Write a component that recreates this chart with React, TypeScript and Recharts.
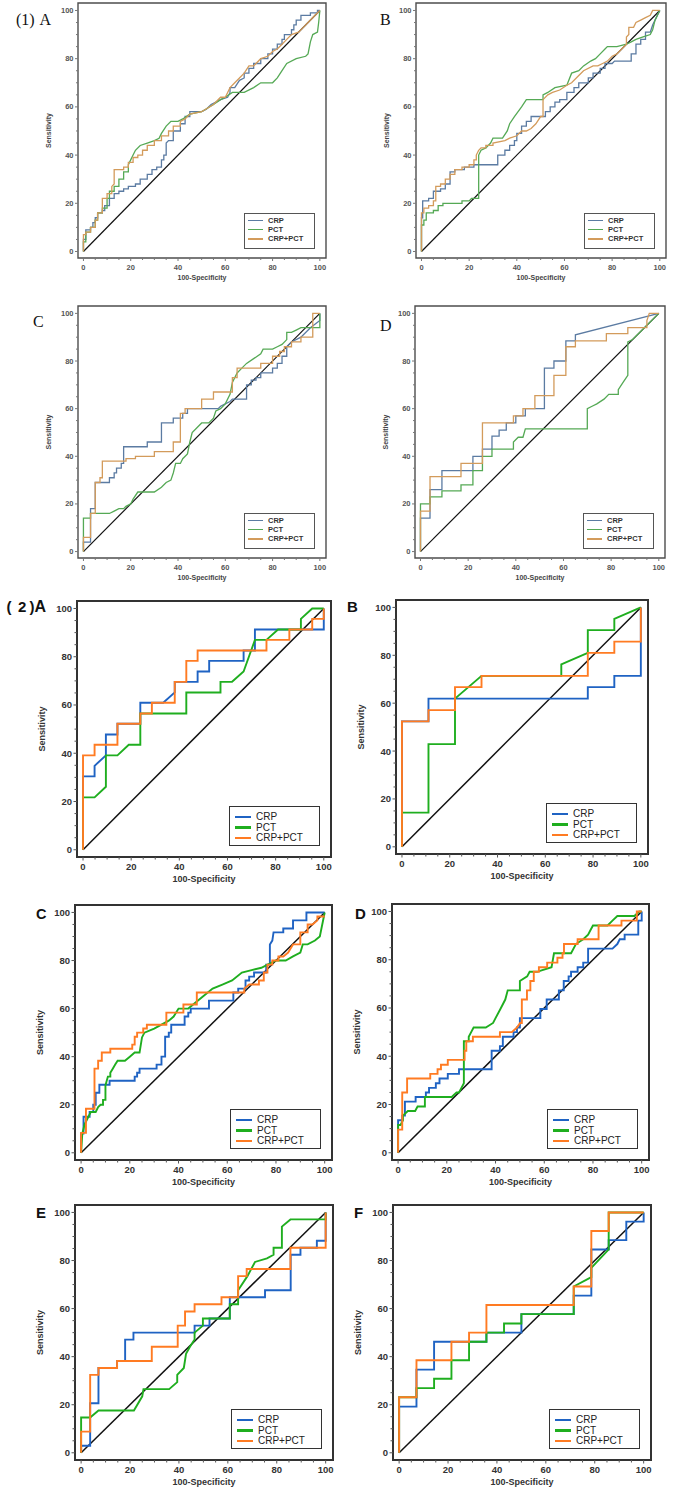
import React from 'react';
import { LineChart, Line, XAxis, YAxis, ReferenceLine, ReferenceArea, Legend } from 'recharts';

type Pt = [number, number];

// ROC points: [100-Specificity, Sensitivity]

// ---------- Figure (1) ----------
const f1aCrp: Pt[] = [[0,0],[0,5],[1,5],[1,9],[3,9],[3,10],[4,10],[4,12],[5,12],[5,14],[6,14],[6,16],[8,16],[8,17],[9,17],[9,19],[11,19],[11,22],[13,22],[13,24],[15,24],[15,25],[17,25],[17,26],[19,26],[19,27],[22,27],[22,28],[24,28],[24,30],[27,30],[27,32],[29,32],[29,34],[31,34],[31,35],[33,35],[33,38],[34,38],[34,40],[35,40],[35,45],[36,46],[38,46],[38,50],[41,50],[41,53],[43,53],[43,56],[45,56],[45,58],[50,58],[52,59],[54,61],[56,62],[58,63],[61,64],[62,66],[62,68],[64,68],[66,71],[68,72],[68,74],[70,74],[70,76],[72,76],[72,78],[75,78],[75,80],[78,80],[78,82],[80,82],[80,84],[82,84],[82,86],[84,86],[84,88],[85,88],[85,90],[88,90],[88,92],[89,92],[89,94],[90,94],[90,96],[92,96],[92,98],[96,98],[96,99],[99,99],[99,100],[100,100]];
const f1aPct: Pt[] = [[0,0],[0,4],[1,4],[1,8],[3,8],[3,10],[5,10],[5,13],[6,13],[6,16],[8,16],[8,18],[10,18],[10,22],[11,22],[11,25],[13,25],[13,27],[15,27],[15,30],[17,30],[17,33],[19,33],[19,36],[20,38],[21,40],[22,42],[24,44],[27,45],[30,46],[32,47],[33,49],[35,52],[37,54],[40,54],[42,55],[45,57],[50,58],[55,61],[58,63],[60,64],[63,66],[68,66],[72,68],[75,70],[80,70],[82,72],[84,75],[86,78],[90,80],[94,81],[95,82],[96,87],[97,90],[99,91],[99.5,95],[100,100]];
const f1aCombo: Pt[] = [[0,0],[0,7],[1,7],[1,8],[3,8],[3,10],[5,10],[5,13],[6,13],[6,16],[8,16],[8,22],[10,22],[10,24],[12,24],[12,27],[13,28],[13,34],[17,34],[17,35],[19,35],[19,37],[21,37],[21,39],[23,39],[23,40],[25,40],[25,42],[27,42],[27,44],[30,44],[30,46],[33,46],[33,48],[36,48],[36,50],[38,50],[38,52],[41,52],[41,54],[43,55],[45,57],[50,58],[55,61],[58,64],[60,64],[61,66],[62,68],[64,70],[66,72],[68,74],[70,77],[72,77],[73,78],[75,80],[78,81],[80,83],[82,84],[84,86],[86,88],[88,90],[91,91],[93,93],[95,95],[98,98],[100,100]];

const f1bCrp: Pt[] = [[0,0],[0,14],[0.5,14],[0.5,21],[3,21],[3,22],[5,22],[5,25],[8,25],[8,26],[10,26],[10,28],[12,28],[12,33],[14,33],[14,34],[18,34],[18,35],[22,35],[22,36],[32,36],[32,40],[35,40],[35,42],[37,42],[37,44],[39,44],[39,46],[40,46],[40,49],[42,49],[42,52],[44,52],[44,54],[46,54],[46,56],[52,56],[52,58],[54,58],[54,60],[56,60],[56,62],[58,62],[58,63],[61,63],[61,66],[64,66],[64,68],[66,68],[66,70],[70,70],[70,72],[72,72],[72,74],[75,74],[75,76],[77,76],[77,78],[80,78],[81,79],[88,79],[88,82],[90,82],[90,86],[92,86],[92,88],[94,88],[94,91],[96,91],[97,94],[98,96],[100,100]];
const f1bPct: Pt[] = [[0,0],[0,11],[1,11],[1,13],[2,13],[2,16],[5,16],[5,17],[7,17],[7,19],[9,19],[9,20],[17,20],[17,21],[20,21],[21,22],[24,22],[24,40],[25,42],[27,43],[29,45],[30,47],[34,47],[36,50],[37,53],[39,56],[42,60],[44,63],[51,63],[51,65],[53,66],[56,68],[61,69],[63,74],[66,75],[68,77],[71,79],[73,80],[75,82],[77,84],[78,85],[82,85],[86,86],[88,87],[90,88],[93,89],[96,90],[97,92],[98,96],[99,98],[100,100]];
const f1bCombo: Pt[] = [[0,0],[0,16],[1,16],[1,18],[3,18],[3,19],[5,19],[5,21],[6,21],[6,27],[8,27],[8,28],[10,28],[10,30],[12,30],[12,32],[14,32],[14,34],[17,34],[17,35],[20,35],[20,36],[22,36],[22,38],[23,38],[23,40],[24,42],[25,43],[27,43],[27,44],[30,44],[30,45],[35,46],[37,47],[40,48],[42,50],[44,50],[46,51],[48,53],[50,56],[51,56],[51,63],[53,65],[55,66],[58,67],[61,69],[63,70],[66,73],[68,75],[72,77],[74,77],[76,78],[78,79],[80,81],[82,82],[84,84],[86,86],[86,89],[87,90],[87,93],[89,93],[90,95],[92,96],[94,97],[96,98],[97,100],[100,100]];

const f1cCrp: Pt[] = [[0,0],[0,4],[3,4],[3,18],[5,18],[5,29],[11,29],[11,31],[13,31],[13,33],[14,33],[14,35],[16,35],[16,37],[17,37],[17,44],[27,44],[27,46],[33,46],[33,54],[38,54],[38,56],[42,56],[42,58],[44,58],[44,60],[57,60],[58,61],[60,62],[62,63],[63,64],[69,64],[69,70],[71,70],[71,72],[73,72],[73,73],[75,73],[75,75],[80,75],[80,77],[82,77],[82,79],[84,79],[84,82],[86,82],[86,86],[88,88],[92,90],[96,94],[100,97],[100,100]];
const f1cPct: Pt[] = [[0,0],[0,14],[3,14],[3,16],[6,16],[11,16],[13,17],[15,18],[17,18],[18,19],[20,20],[21,22],[23,25],[30,25],[33,27],[35,29],[37,30],[38,33],[39,37],[41,37],[42,39],[44,41],[45,46],[46,50],[48,52],[50,54],[53,54],[55,56],[56,59],[58,60],[60,62],[62,66],[63,71],[65,75],[67,77],[69,79],[72,81],[75,83],[76,85],[80,85],[82,86],[84,87],[86,89],[86,92],[88,92],[90,93],[92,94],[100,94],[100,100]];
const f1cCombo: Pt[] = [[0,0],[0,6],[3,6],[3,16],[5,16],[5,29],[7,29],[7,31],[8,31],[8,38],[18,38],[18,39],[22,39],[22,40],[30,40],[30,42],[38,42],[38,46],[41,46],[41,58],[43,58],[43,60],[50,60],[50,64],[55,64],[55,67],[63,67],[63,73],[65,73],[65,77],[75,77],[75,79],[80,79],[80,82],[83,82],[83,84],[85,84],[85,86],[88,86],[88,88],[92,88],[92,90],[97,90],[97,100],[100,100]];

const f1dCrp: Pt[] = [[0,0],[0,14],[4,14],[4,26],[9,26],[9,34],[22,34],[22,40],[26,40],[26,43],[30,43],[30,48.5],[33,48.5],[33,51],[36,51],[36,54],[40,54],[40,57],[44,57],[44,60],[52,60],[52,77],[56,77],[56,80],[61,80],[61,88.5],[65,88.5],[65,91],[100,100]];
const f1dPct: Pt[] = [[0,0],[0,20],[4,20],[4,23],[9,23],[9,25.5],[17,25.5],[17,28],[22,28],[22,34],[26,34],[26,40],[30,40],[30,43],[39,43],[39,46],[41,48],[43,48],[44,51.5],[70,51.5],[70,60],[72,61],[74,62],[77,64],[79,66],[83,66],[83,68],[85,71],[87,74],[87,88],[89,89],[91,91],[95,95],[100,100]];
const f1dCombo: Pt[] = [[0,0],[0,17],[4,17],[4,31.5],[17,31.5],[17,37],[26,37],[26,54],[39,54],[39,57],[43,57],[43,60],[48,60],[48,65.5],[56,65.5],[56,74],[61,74],[61,86],[65,86],[65,88.5],[78,88.5],[78,91.5],[87,91.5],[87,94],[95,94],[95,97],[96,100],[100,100]];

// ---------- Figure (2) ----------
const f2aCrp: Pt[] = [[0,0],[0,30.4],[4.8,30.4],[4.8,34.8],[9.5,39.1],[9.5,47.8],[14.3,47.8],[14.3,52.2],[23.8,52.2],[23.8,60.9],[33.3,60.9],[38.1,65.2],[38.1,69.6],[47.6,69.6],[47.6,73.9],[52.4,73.9],[52.4,78.3],[66.7,78.3],[66.7,82.6],[71.4,82.6],[71.4,91.3],[100,91.3],[100,100]];
const f2aPct: Pt[] = [[0,0],[0,21.7],[4.8,21.7],[9.5,26.1],[9.5,39.1],[14.3,39.1],[19,43.5],[23.8,43.5],[23.8,56.5],[42.9,56.5],[42.9,65.2],[57.1,65.2],[57.1,69.6],[61.9,69.6],[66.7,73.9],[71.4,87],[76.2,87],[81,91.3],[90.5,91.3],[90.5,95.7],[95.2,100],[100,100]];
const f2aCombo: Pt[] = [[0,0],[0,39.1],[4.8,39.1],[4.8,43.5],[14.3,43.5],[14.3,52.2],[23.8,52.2],[23.8,56.5],[28.6,56.5],[28.6,60.9],[38.1,60.9],[38.1,69.6],[42.9,69.6],[42.9,78.3],[47.6,78.3],[47.6,82.6],[76.2,82.6],[76.2,87],[85.7,87],[85.7,91.3],[95.2,91.3],[95.2,95.7],[100,95.7],[100,100]];

const f2bCrp: Pt[] = [[0,0],[0,52.4],[11.1,52.4],[11.1,61.9],[77.8,61.9],[77.8,66.7],[88.9,66.7],[88.9,71.4],[100,71.4],[100,85.7],[100,100]];
const f2bPct: Pt[] = [[0,0],[0,14.3],[11.1,14.3],[11.1,42.9],[22.2,42.9],[22.2,61.9],[33.3,71.4],[66.7,71.4],[66.7,76.2],[77.8,81],[77.8,90.5],[88.9,90.5],[88.9,95.2],[100,100]];
const f2bCombo: Pt[] = [[0,0],[0,52.4],[11.1,52.4],[11.1,57.1],[22.2,57.1],[22.2,66.7],[33.3,66.7],[33.3,71.4],[77.8,71.4],[77.8,81],[88.9,81],[88.9,85.7],[100,85.7],[100,100]];

const f2cCrp: Pt[] = [[0,0],[0,8],[1,8],[1,15],[3.5,15],[3.5,17],[5,17],[5,20],[6,20],[6,25],[7.5,25],[7.5,28.3],[11.7,28.3],[11.7,30],[22,30],[22,31.7],[23,31.7],[23,33.3],[24,33.3],[24,35],[31,35],[31,36.7],[33,36.7],[33,40],[34.5,40],[34.5,48.3],[36,48.3],[36,50],[37,50],[37,53.3],[42.5,53.3],[42.5,56.7],[44,56.7],[44,58.3],[45,58.3],[45,60],[52.5,60],[52.5,63.3],[62.5,63.3],[62.5,66.7],[64.5,66.7],[64.5,68.3],[67.5,68.3],[67.5,71.7],[69,71.7],[69,73.3],[71,73.3],[71,75],[76,75],[76,78.3],[77.5,78.3],[77.5,86.7],[78.5,88.3],[79,91.7],[83,91.7],[83,93.3],[87,93.3],[87,96.7],[92.5,96.7],[92.5,100],[100,100]];
const f2cPct: Pt[] = [[0,0],[0.5,8],[1.5,12],[3,15],[4,17],[6,17],[7,19],[8,20],[9,20],[9,22],[10,22],[10,28],[11,31.7],[12,31.7],[12,33.3],[13,35],[14,36.7],[15,38.3],[18,38.3],[20,40],[22,41.7],[24,41.7],[25,48],[26,50],[30,51.7],[33,53.3],[36,55],[38,56.7],[40,60],[44,60],[46,61.7],[50,65],[54,68.3],[58,70],[62,71.7],[66,75],[70,76],[74,77],[78,79],[80,80],[84,80],[87,81.7],[90,83.3],[91,86.7],[93,86.7],[96,88.3],[98,90],[99,95],[100,100]];
const f2cCombo: Pt[] = [[0,0],[0,8.3],[2,8.3],[2,18.3],[5.5,18.3],[5.5,35],[7,35],[7,38.3],[8.5,38.3],[8.5,41.7],[12,41.7],[12,43.3],[21,43.3],[21,45],[22,45],[22,48.3],[23,48.3],[23,50],[25.5,50],[25.5,51.7],[27,51.7],[27,53.3],[35,53.3],[35,58.3],[42,58.3],[42,61.7],[47.5,61.7],[47.5,66.7],[67,66.7],[67,68.3],[69,70],[73,70],[73,71.7],[75,71.7],[75,75],[76.5,75],[76.5,78.3],[78.5,78.3],[78.5,80],[81,80],[81,81.7],[83,81.7],[85,83.3],[86,85],[87,86.7],[90,86.7],[90,91.7],[93,91.7],[93,95],[95,95],[97,96.7],[97,98.3],[100,98.3]];

const f2dCrp: Pt[] = [[0,0],[0,13.5],[1.7,13.5],[1.7,15.4],[2.8,15.4],[2.8,21.2],[7.2,21.2],[7.2,23.1],[11.4,23.1],[11.4,25],[12.7,25],[12.7,26.9],[15.5,26.9],[15.5,28.8],[17,28.8],[17,30.8],[20.4,30.8],[20.4,32.7],[25,32.7],[25,34.6],[38.4,34.6],[38.4,42.3],[41.8,42.3],[41.8,44.2],[43,44.2],[43,48.1],[47.4,48.1],[47.4,50],[48.8,50],[48.8,51.9],[50,51.9],[50,55.8],[58.4,55.8],[58.4,59.6],[61,59.6],[61,63.5],[66,63.5],[66,67.3],[68,67.3],[68,71.2],[70,71.2],[70,73.1],[71,73.1],[71,75],[73.7,75],[73.7,76.9],[76,76.9],[76,78.8],[78,78.8],[78,84.6],[88,84.6],[90,86.5],[91,88.5],[93,88.5],[93,90.4],[98.6,90.4],[98.6,96.2],[100,96.2],[100,100]];
const f2dPct: Pt[] = [[0,0],[0,11.5],[1,11.5],[2,13.5],[2,15.4],[4,17.3],[7,17.3],[8,19.2],[11,19.2],[11,23.1],[22,23.1],[24,25],[25,25],[26,26.9],[27,28.8],[27,46.2],[29,46.2],[29,48.1],[30,50],[31,51.9],[36,51.9],[39,53.8],[40,55.8],[42,59.6],[44,63.5],[45,67.3],[50,67.3],[50,71.2],[53,73.1],[54,75],[57,75],[63,76.9],[64,82.7],[71,82.7],[73,86.5],[76,88.5],[78,90.4],[79,92.3],[80,94.2],[86,94.2],[88,96.2],[90,98.1],[97,98.1],[99,100],[100,100]];
const f2dCombo: Pt[] = [[0,0],[0,9.6],[1.7,9.6],[1.7,25],[3.7,25],[3.7,30.8],[13.2,30.8],[13.2,32.7],[16.2,32.7],[16.2,34.6],[17.6,34.6],[17.6,36.5],[20.4,36.5],[20.4,38.5],[27.3,38.5],[27.3,42.3],[28,42.3],[28,46.2],[30.7,46.2],[30.7,48.1],[41.8,48.1],[41.8,50],[46.7,50],[48.8,51.9],[50.1,53.8],[50.8,53.8],[50.8,63.5],[52.9,63.5],[52.9,67.3],[54.3,67.3],[54.3,71.2],[55.7,71.2],[55.7,75],[57.8,75],[57.8,76.9],[61.2,76.9],[61.2,78.8],[65.4,78.8],[65.4,80.8],[67.5,80.8],[67.5,82.7],[68.1,82.7],[68.1,86.5],[73.7,86.5],[73.7,88.5],[82.3,88.5],[82.3,94.2],[91.7,94.2],[91.7,96.2],[98,96.2],[98,100],[100,100]];

const f2eCrp: Pt[] = [[0,0],[0,2.9],[3.7,2.9],[3.7,20.6],[7.1,20.6],[7.1,35.3],[14.7,35.3],[14.7,38.2],[18,38.2],[18,47.1],[21.4,47.1],[21.4,50],[46.4,50],[46.4,52.9],[52.5,52.9],[52.5,55.9],[60.8,55.9],[60.8,64.7],[75.2,64.7],[75.2,67.6],[85.7,67.6],[85.7,82.4],[89.7,82.4],[89.7,85.3],[96.4,85.3],[96.4,88.2],[100,88.2],[100,100]];
const f2ePct: Pt[] = [[0,0],[0,14.7],[3.7,14.7],[7.1,17.6],[21.6,17.6],[25,23.5],[25.5,26.5],[36,26.5],[39.3,29.4],[39.3,32.4],[42,35.3],[42.9,41.2],[44.5,44.1],[46.4,47.1],[46.4,50],[49.8,52.9],[49.8,55.9],[60.8,55.9],[60.8,61.8],[64.2,61.8],[64.2,67.6],[68,73.5],[71.1,79.4],[76,80.9],[78.7,82.4],[78.7,85.3],[82.1,85.3],[82.1,94.1],[85.6,97.1],[100,97.1],[100,100]];
const f2eCombo: Pt[] = [[0,0],[0,8.8],[3.7,8.8],[3.7,32.4],[7.1,32.4],[7.1,35.3],[14.7,35.3],[14.7,38.2],[28.9,38.2],[28.9,44.1],[39.5,44.1],[39.5,52.9],[42.5,52.9],[42.5,58.8],[46.4,58.8],[46.4,61.8],[57.4,61.8],[57.4,64.7],[64.2,64.7],[64.2,73.5],[67.7,73.5],[67.7,76.5],[85.6,76.5],[85.6,85.3],[100,85.3],[100,100]];

const f2fCrp: Pt[] = [[0,0],[0,19.2],[7.1,19.2],[7.1,34.6],[14.3,34.6],[14.3,46.2],[35.7,46.2],[35.7,50],[50,50],[50,57.7],[71.4,57.7],[71.4,65.4],[78.6,65.4],[78.6,84.6],[85.7,84.6],[85.7,88.5],[92.9,88.5],[92.9,96.2],[100,96.2],[100,100]];
const f2fPct: Pt[] = [[0,0],[0,23.1],[7.1,23.1],[7.1,26.9],[14.3,26.9],[14.3,30.8],[21.4,30.8],[21.4,38.5],[28.6,38.5],[28.6,46.2],[35.7,46.2],[35.7,50],[42.9,50],[42.9,53.8],[50,53.8],[50,57.7],[71.4,57.7],[71.4,69.2],[78.6,73.1],[78.6,76.9],[85.7,84.6],[85.7,100],[100,100]];
const f2fCombo: Pt[] = [[0,0],[0,23.1],[7.1,23.1],[7.1,38.5],[21.4,38.5],[21.4,46.2],[28.6,46.2],[28.6,50],[35.7,50],[35.7,61.5],[71.4,61.5],[71.4,69.2],[78.6,69.2],[78.6,92.3],[85.7,92.3],[85.7,100],[100,100]];

const SERIES_NAMES = ['CRP', 'PCT', 'CRP+PCT'];
const AXIS_TICKS = [0, 5, 10, 15, 20, 25, 30, 35, 40, 45, 50, 55, 60, 65, 70, 75, 80, 85, 90, 95, 100];
const X_TITLE = '100-Specificity';
const Y_TITLE = 'Sensitivity';

const SANS = '"Liberation Sans", Arial, Helvetica, sans-serif';
const SERIF = '"Liberation Serif", "Times New Roman", serif';

type Theme = {
  colors: string[];
  curveWidth: number;
  diagWidth: number;
  frameColor: string;
  frameWidth: number;
  xDomain: [number, number];
  yDomain: [number, number];
  tickFont: number;
  tickColor: string;
  tickLineColor: string;
  majorLen: number;
  minorLen: number;
  yLabelGap: number;
  xLabelGap: number;
  titleFont: number;
  titleColor: string;
  yTitleDx: number;
  xTitleDy: number;
  legend: {
    w: number; h: number; insetR: number; insetB: number; font: number; weight: number;
    color: string; lineX: number; lineW: number; lineThick: number; textX: number; rows: number[]; border: string;
  };
};

const STYLE_ONE: Theme = {
  colors: ['#5b7ba2', '#55a955', '#d39b5b'],
  curveWidth: 1.3,
  diagWidth: 1.2,
  frameColor: '#4d4d4d',
  frameWidth: 1.4,
  xDomain: [-2.3, 102.6],
  yDomain: [-2.7, 103.1],
  tickFont: 7.5,
  tickColor: '#555',
  tickLineColor: '#777',
  majorLen: 3,
  minorLen: 2,
  yLabelGap: 4.5,
  xLabelGap: 9,
  titleFont: 7,
  titleColor: '#444',
  yTitleDx: 30,
  xTitleDy: 19,
  legend: { w: 71, h: 36, insetR: 11, insetB: 9, font: 7.5, weight: 700, color: '#333', lineX: 4, lineW: 15, lineThick: 1.5, textX: 24, rows: [6.5, 15.5, 25], border: '1px solid #555' },
};

const STYLE_TWO: Theme = {
  colors: ['#1f63c3', '#1fae1f', '#ff7b22'],
  curveWidth: 1.9,
  diagWidth: 1.5,
  frameColor: '#333',
  frameWidth: 2,
  xDomain: [-2.5, 103],
  yDomain: [-3, 103.1],
  tickFont: 9.5,
  tickColor: '#333',
  tickLineColor: '#555',
  majorLen: 3.5,
  minorLen: 2.5,
  yLabelGap: 5,
  xLabelGap: 9.5,
  titleFont: 9,
  titleColor: '#333',
  yTitleDx: 35,
  xTitleDy: 22,
  legend: { w: 91, h: 40, insetR: 11, insetB: 11, font: 10, weight: 400, color: '#222', lineX: 6, lineW: 16, lineThick: 2.2, textX: 27, rows: [10, 20.5, 31], border: '1.5px solid #333' },
};

type PanelDef = { id: string; frame: [number, number, number, number]; theme: Theme; curves: Pt[][] };

const PANELS: PanelDef[] = [
  { id: 'f1a', frame: [78, 3, 248, 255], theme: STYLE_ONE, curves: [f1aCrp, f1aPct, f1aCombo] },
  { id: 'f1b', frame: [416, 3, 250, 255], theme: STYLE_ONE, curves: [f1bCrp, f1bPct, f1bCombo] },
  { id: 'f1c', frame: [78, 306, 248, 252], theme: STYLE_ONE, curves: [f1cCrp, f1cPct, f1cCombo] },
  { id: 'f1d', frame: [415, 306, 250, 252], theme: STYLE_ONE, curves: [f1dCrp, f1dPct, f1dCombo] },
  { id: 'f2a', frame: [77, 601, 254, 256], theme: STYLE_TWO, curves: [f2aCrp, f2aPct, f2aCombo] },
  { id: 'f2b', frame: [396, 600, 252, 254], theme: STYLE_TWO, curves: [f2bCrp, f2bPct, f2bCombo] },
  { id: 'f2c', frame: [75, 905, 257, 255], theme: STYLE_TWO, curves: [f2cCrp, f2cPct, f2cCombo] },
  { id: 'f2d', frame: [392, 904, 257, 256], theme: STYLE_TWO, curves: [f2dCrp, f2dPct, f2dCombo] },
  { id: 'f2e', frame: [75, 1205, 258, 255], theme: STYLE_TWO, curves: [f2eCrp, f2ePct, f2eCombo] },
  { id: 'f2f', frame: [393, 1205, 258, 255], theme: STYLE_TWO, curves: [f2fCrp, f2fPct, f2fCombo] },
];

const toRows = (pts: Pt[]) => pts.map(([x, y]) => ({ x, y }));

const M_LEFT = 50;
const M_TOP = 5;
const M_RIGHT = 6;
const X_AXIS_H = 32;

function YTick(props: any) {
  const { x, y, payload, theme } = props;
  const t: Theme = theme;
  const major = payload.value % 20 === 0;
  return (
    <g>
      <line x1={x} y1={y} x2={x - (major ? t.majorLen : t.minorLen)} y2={y} stroke={t.tickLineColor} strokeWidth={1} />
      {major && (
        <text x={x - t.yLabelGap} y={y} textAnchor="end" dominantBaseline="central" fontFamily={SANS} fontWeight={700} fontSize={t.tickFont} fill={t.tickColor}>
          {payload.value}
        </text>
      )}
    </g>
  );
}

function XTick(props: any) {
  const { x, y, payload, theme } = props;
  const t: Theme = theme;
  const major = payload.value % 20 === 0;
  return (
    <g>
      <line x1={x} y1={y} x2={x} y2={y + (major ? t.majorLen : t.minorLen)} stroke={t.tickLineColor} strokeWidth={1} />
      {major && (
        <text x={x} y={y + t.xLabelGap} textAnchor="middle" dominantBaseline="central" fontFamily={SANS} fontWeight={700} fontSize={t.tickFont} fill={t.tickColor}>
          {payload.value}
        </text>
      )}
    </g>
  );
}

function LegendBox(props: any) {
  const { payload, theme } = props;
  const L = (theme as Theme).legend;
  const entries = [...(payload || [])].sort(
    (a: any, b: any) => SERIES_NAMES.indexOf(a.value) - SERIES_NAMES.indexOf(b.value)
  );
  return (
    <div style={{ width: L.w, height: L.h, boxSizing: 'border-box', border: L.border, background: '#fff', position: 'relative', fontFamily: SANS }}>
      {entries.map((entry: any, i: number) => (
        <div key={entry.value} style={{ position: 'absolute', left: 0, top: L.rows[i] - 7, height: 14, width: '100%' }}>
          <div style={{ position: 'absolute', left: L.lineX - 1, top: 7 - L.lineThick / 2, width: L.lineW, height: L.lineThick, background: entry.color }} />
          <div style={{ position: 'absolute', left: L.textX - 1, top: 0, height: 14, lineHeight: '14px', fontSize: L.font, fontWeight: L.weight, color: L.color, whiteSpace: 'nowrap' }}>
            {entry.value}
          </div>
        </div>
      ))}
    </div>
  );
}

function RocPanel({ def }: { def: PanelDef }) {
  const [fx, fy, fw, fh] = def.frame;
  const t = def.theme;
  const L = t.legend;
  const width = fw + M_LEFT + M_RIGHT;
  const height = fh + M_TOP + X_AXIS_H;
  return (
    <div style={{ position: 'absolute', left: fx - M_LEFT, top: fy - M_TOP, width, height }}>
      <LineChart width={width} height={height} margin={{ top: M_TOP, right: M_RIGHT, left: 0, bottom: 0 }}>
        <XAxis
          type="number"
          dataKey="x"
          domain={t.xDomain}
          allowDataOverflow
          ticks={AXIS_TICKS}
          interval={0}
          tickLine={false}
          axisLine={false}
          tickSize={0}
          tickMargin={0}
          height={X_AXIS_H}
          tick={(p: any) => <XTick {...p} theme={t} />}
          label={(p: any) => {
            const vb = p.viewBox || {};
            const cx = vb.x + vb.width / 2;
            const cy = vb.y + t.xTitleDy;
            return (
              <text x={cx} y={cy} textAnchor="middle" dominantBaseline="central" fontFamily={SANS} fontWeight={700} fontSize={t.titleFont} fill={t.titleColor}>
                {X_TITLE}
              </text>
            );
          }}
        />
        <YAxis
          type="number"
          dataKey="y"
          domain={t.yDomain}
          allowDataOverflow
          ticks={AXIS_TICKS}
          interval={0}
          tickLine={false}
          axisLine={false}
          tickSize={0}
          tickMargin={0}
          width={M_LEFT}
          tick={(p: any) => <YTick {...p} theme={t} />}
          label={(p: any) => {
            const vb = p.viewBox || {};
            const cx = vb.x + vb.width - t.yTitleDx;
            const cy = vb.y + vb.height / 2;
            return (
              <text x={cx} y={cy} transform={`rotate(-90 ${cx} ${cy})`} textAnchor="middle" dominantBaseline="central" fontFamily={SANS} fontWeight={700} fontSize={t.titleFont} fill={t.titleColor}>
                {Y_TITLE}
              </text>
            );
          }}
        />
        <ReferenceArea x1={t.xDomain[0]} x2={t.xDomain[1]} y1={t.yDomain[0]} y2={t.yDomain[1]} fill="none" fillOpacity={0} stroke={t.frameColor} strokeWidth={t.frameWidth} ifOverflow="visible" />
        <ReferenceLine segment={[{ x: 0, y: 0 }, { x: 100, y: 100 }]} stroke="#111" strokeWidth={t.diagWidth} ifOverflow="visible" />
        {def.curves.map((pts, i) => (
          <Line
            key={SERIES_NAMES[i]}
            name={SERIES_NAMES[i]}
            data={toRows(pts)}
            dataKey="y"
            type="linear"
            stroke={t.colors[i]}
            strokeWidth={t.curveWidth}
            dot={false}
            activeDot={false}
            legendType="line"
            isAnimationActive={false}
          />
        ))}
        <Legend
          layout="vertical"
          align="center"
          verticalAlign="middle"
          itemSorter={null as any}
          wrapperStyle={{ left: M_LEFT + fw - L.insetR - L.w, top: M_TOP + fh - L.insetB - L.h, width: L.w, height: L.h, margin: 0, padding: 0 }}
          content={(p: any) => <LegendBox {...p} theme={t} />}
        />
      </LineChart>
    </div>
  );
}

function PanelLetters() {
  return (
    <svg width={693} height={1488} style={{ position: 'absolute', left: 0, top: 0, pointerEvents: 'none' }}>
      <g fontFamily={SERIF} fontSize={16} fill="#111">
        <text x={16} y={25}>(1)<tspan x={39.5}>A</tspan></text>
        <text x={380} y={25}>B</text>
        <text x={33} y={327}>C</text>
        <text x={380} y={331}>D</text>
      </g>
      <g fontFamily={SANS} fontWeight={700} fill="#111">
        <text y={612} fontSize={15}>
          <tspan x={6.5}>(</tspan>
          <tspan x={18}>2</tspan>
          <tspan x={29.5}>)</tspan>
          <tspan x={34.5} fontSize={16}>A</tspan>
        </text>
        <text x={347} y={612} fontSize={15}>B</text>
        <text x={36} y={919} fontSize={14.5}>C</text>
        <text x={355} y={919} fontSize={15}>D</text>
        <text x={36} y={1218} fontSize={15}>E</text>
        <text x={354} y={1218} fontSize={15}>F</text>
      </g>
    </svg>
  );
}

export default function App() {
  return (
    <div style={{ position: 'absolute', left: 0, top: 0, width: 693, height: 1488, overflow: 'hidden', background: '#fff' }}>
      {PANELS.map((def) => (
        <RocPanel key={def.id} def={def} />
      ))}
      <PanelLetters />
    </div>
  );
}
